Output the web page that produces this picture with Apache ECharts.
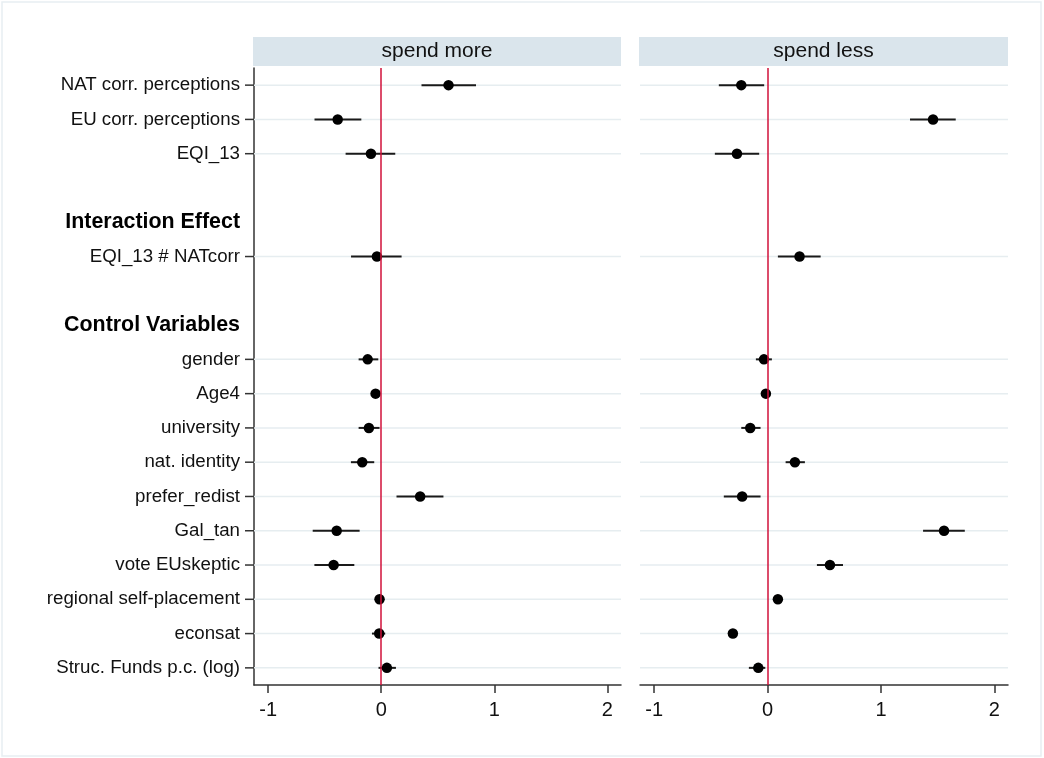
<!DOCTYPE html>
<html>
<head>
<meta charset="utf-8">
<script src="https://cdn.jsdelivr.net/npm/echarts@6/dist/echarts.min.js"></script>
<style>
  html, body { margin: 0; padding: 0; background: #fff; }
  #box { width: 1044px; height: 758px; }
</style>
</head>
<body>
<div id="box"></div>
<script>
// rows of the y axis, top to bottom (blank rows are spacers)
var rows = ['NAT corr. perceptions', 'EU corr. perceptions', 'EQI_13', ' ',
  'Interaction Effect', 'EQI_13 # NATcorr', '  ', 'Control Variables',
  'gender', 'Age4', 'university', 'nat. identity', 'prefer_redist', 'Gal_tan',
  'vote EUskeptic', 'regional self-placement', 'econsat', 'Struc. Funds p.c. (log)'];
var headers = ['Interaction Effect', 'Control Variables'];

var variables = ['NAT corr. perceptions', 'EU corr. perceptions', 'EQI_13', 'EQI_13 # NATcorr',
  'gender', 'Age4', 'university', 'nat. identity', 'prefer_redist', 'Gal_tan',
  'vote EUskeptic', 'regional self-placement', 'econsat', 'Struc. Funds p.c. (log)'];

// spend more
var moreCoef = [0.595, -0.385, -0.091, -0.038, -0.12, -0.05, -0.109, -0.168, 0.344, -0.394, -0.421, -0.015, -0.018, 0.05];
var moreLo   = [0.356, -0.59, -0.315, -0.267, -0.2, -0.072, -0.2, -0.268, 0.135, -0.606, -0.591, -0.035, -0.082, -0.024];
var moreHi   = [0.838, -0.176, 0.124, 0.18, -0.026, -0.028, -0.015, -0.062, 0.55, -0.191, -0.238, 0.005, 0.035, 0.13];

// spend less
var lessCoef = [-0.232, 1.459, -0.27, 0.282, -0.032, -0.015, -0.153, 0.241, -0.224, 1.556, 0.55, 0.091, -0.306, -0.082];
var lessLo   = [-0.43, 1.256, -0.465, 0.091, -0.103, -0.035, -0.232, 0.159, -0.386, 1.371, 0.435, 0.07, -0.326, -0.165];
var lessHi   = [-0.03, 1.659, -0.074, 0.468, 0.038, 0.005, -0.062, 0.329, -0.062, 1.739, 0.665, 0.112, -0.286, -0.02];

var xTicks = [-1, 0, 1, 2];

var myChart = echarts.init(document.getElementById('box'));
var FONT = 'Liberation Sans, Arial, sans-serif';

function rowOf(name) { return rows.indexOf(name); }

function gridSeries(idx) {
  return {
    type: 'custom', xAxisIndex: idx, yAxisIndex: idx, silent: true, z: 1,
    data: variables.map(function (v) { return [0, rowOf(v)]; }),
    renderItem: function (params, api) {
      var cs = params.coordSys;
      var y = api.coord([0, api.value(1)])[1];
      return { type: 'line', shape: { x1: cs.x, y1: y, x2: cs.x + cs.width, y2: y },
        style: { stroke: '#e6edf0', lineWidth: 1.5 } };
    }
  };
}

// y-axis tick marks, only on the variable rows
function tickSeries() {
  return {
    type: 'custom', xAxisIndex: 0, yAxisIndex: 0, silent: true, z: 6, clip: false,
    data: variables.map(function (v) { return [0, rowOf(v)]; }),
    renderItem: function (params, api) {
      var cs = params.coordSys;
      var y = api.coord([0, api.value(1)])[1];
      return { type: 'line', shape: { x1: cs.x - 9, y1: y, x2: cs.x, y2: y },
        style: { stroke: '#333', lineWidth: 1.5 } };
    }
  };
}

function barSeries(idx, lo, hi) {
  return {
    type: 'custom', xAxisIndex: idx, yAxisIndex: idx, silent: true, z: 3,
    data: variables.map(function (v, i) { return [lo[i], hi[i], rowOf(v)]; }),
    renderItem: function (params, api) {
      var a = api.coord([api.value(0), api.value(2)]);
      var b = api.coord([api.value(1), api.value(2)]);
      return { type: 'line', shape: { x1: a[0], y1: a[1], x2: b[0], y2: b[1] },
        style: { stroke: '#1a1a1a', lineWidth: 2 } };
    }
  };
}

function dotSeries(idx, coef) {
  return {
    type: 'scatter', xAxisIndex: idx, yAxisIndex: idx, silent: true, z: 4,
    symbol: 'circle', symbolSize: 10.5,
    itemStyle: { color: '#000', opacity: 1 },
    data: variables.map(function (v, i) { return [coef[i], rowOf(v)]; })
  };
}

function zeroLine(idx) {
  return {
    type: 'scatter', xAxisIndex: idx, yAxisIndex: idx, silent: true, z: 5, data: [],
    markLine: {
      silent: true, symbol: ['none', 'none'], label: { show: false },
      lineStyle: { color: '#d0103a', width: 1.5, type: 'solid' },
      data: [{ xAxis: 0 }]
    }
  };
}

function xAxisOf(idx) {
  return {
    type: 'value', gridIndex: idx, min: -1.125, max: 2.12,
    splitLine: { show: false },
    axisLine: { show: true, onZero: false, lineStyle: { color: '#333', width: 1.5 } },
    axisTick: { show: true, length: 8, customValues: xTicks, lineStyle: { color: '#333', width: 1.5 } },
    axisLabel: { customValues: xTicks, fontSize: 20, color: '#111', margin: 15, fontFamily: FONT }
  };
}

option = {
  backgroundColor: '#fff',
  animation: false,
  grid: [
    { left: 254, top: 68, width: 367, height: 617 },
    { left: 640, top: 68, width: 368, height: 617 }
  ],
  xAxis: [xAxisOf(0), xAxisOf(1)],
  yAxis: [
    {
      type: 'category', gridIndex: 0, data: rows, inverse: true,
      axisLine: { show: true, onZero: false, lineStyle: { color: '#333', width: 1.5 } },
      axisTick: { show: false },
      splitLine: { show: false },
      axisLabel: {
        interval: 0, margin: 14, fontSize: 18.7, color: '#111', fontFamily: FONT,
        formatter: function (v) { return headers.indexOf(v) >= 0 ? '{h|' + v + '}' : v; },
        rich: { h: { fontSize: 21.4, fontWeight: 'bold', color: '#000', fontFamily: FONT } }
      }
    },
    {
      type: 'category', gridIndex: 1, data: rows, inverse: true,
      axisLine: { show: false }, axisTick: { show: false },
      axisLabel: { show: false }, splitLine: { show: false }
    }
  ],
  graphic: [
    { type: 'rect', shape: { x: 2, y: 2, width: 1039, height: 754 },
      style: { fill: 'none', stroke: '#e8eef2', lineWidth: 1.5 }, silent: true },
    { type: 'rect', shape: { x: 253, y: 37, width: 368, height: 29 },
      style: { fill: '#dae5ec' }, silent: true },
    { type: 'text', x: 437, y: 51.5, silent: true,
      style: { text: 'spend more', fontSize: 21, fill: '#111', align: 'center', verticalAlign: 'middle', fontFamily: FONT } },
    { type: 'rect', shape: { x: 639, y: 37, width: 369, height: 29 },
      style: { fill: '#dae5ec' }, silent: true },
    { type: 'text', x: 823.5, y: 51.5, silent: true,
      style: { text: 'spend less', fontSize: 21, fill: '#111', align: 'center', verticalAlign: 'middle', fontFamily: FONT } }
  ],
  series: [
    gridSeries(0), gridSeries(1), tickSeries(),
    barSeries(0, moreLo, moreHi), barSeries(1, lessLo, lessHi),
    dotSeries(0, moreCoef), dotSeries(1, lessCoef),
    zeroLine(0), zeroLine(1)
  ]
};
myChart.setOption(option);
</script>
</body>
</html>
